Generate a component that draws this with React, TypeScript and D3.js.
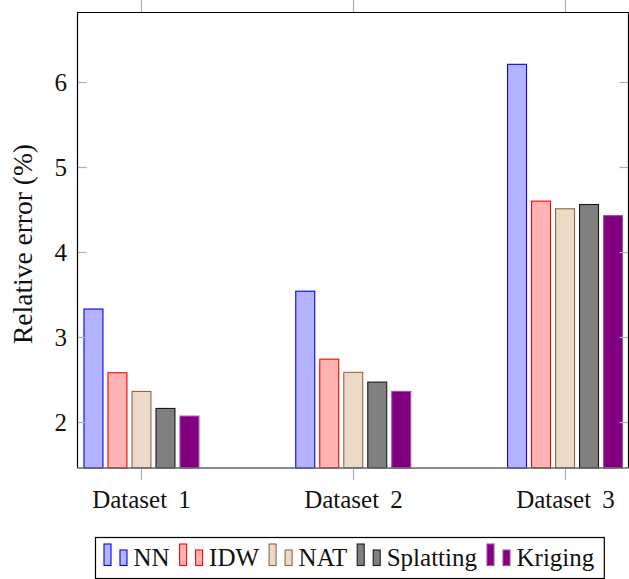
import React, { useEffect, useRef } from "react";
import * as d3 from "d3";

const categories = ["Dataset 1", "Dataset 2", "Dataset 3"];
const seriesNames = ["NN", "IDW", "NAT", "Splatting", "Kriging"];
const nnValues = [3.33, 3.54, 6.21];
const idwValues = [2.58, 2.74, 4.6];
const natValues = [2.36, 2.585, 4.51];
const splattingValues = [2.16, 2.47, 4.56];
const krigingValues = [2.07, 2.36, 4.43];
const yTicks = [2, 3, 4, 5, 6];
const yLabel = "Relative error (%)";

const fills = ["#b3b3ff", "#ffb3b3", "#ecd9c6", "#808080", "#800080"];
const strokes = ["#0000ff", "#ff0000", "#8c6a48", "#1a1a1a", "#a050a0"];

const W = 629;
const H = 579;
const FONT = "'Liberation Serif', 'Times New Roman', serif";

export default function App() {
  const ref = useRef<SVGSVGElement>(null);

  useEffect(() => {
    const svg = d3.select(ref.current);
    svg.selectAll("*").remove();

    const values = [nnValues, idwValues, natValues, splattingValues, krigingValues];
    const left = 77.5, right = 628.5, top = 12.5, bottom = 468;

    const x0 = d3.scalePoint<string>().domain(categories).range([left, right + 0.5]).padding(0.302);
    const x1 = d3.scaleBand<string>().domain(seriesNames).range([-60, 60]).paddingInner(0.21).paddingOuter(0.105);
    const y = d3.scaleLinear().domain([1.459, 6.82]).range([bottom, top]);

    const g = svg.append("g");

    // bars
    seriesNames.forEach((s, si) => {
      g.selectAll(null)
        .data(values[si])
        .enter()
        .append("rect")
        .attr("x", (d, i) => (x0(categories[i]) as number) + (x1(s) as number))
        .attr("y", (d) => y(d))
        .attr("width", x1.bandwidth())
        .attr("height", (d) => bottom - y(d))
        .attr("fill", fills[si])
        .attr("stroke", strokes[si])
        .attr("stroke-width", 1.1);
    });

    // y ticks (inside, both sides)
    yTicks.forEach((t) => {
      const yy = Math.round(y(t)) + 0.5;
      g.append("line").attr("x1", left).attr("x2", left + 9).attr("y1", yy).attr("y2", yy).attr("stroke", "#b0b0b0").attr("stroke-width", 1.2);
      g.append("line").attr("x1", right - 9).attr("x2", right).attr("y1", yy).attr("y2", yy).attr("stroke", "#b0b0b0").attr("stroke-width", 1.2);
      g.append("text")
        .attr("x", 67)
        .attr("y", yy)
        .attr("dy", "0.35em")
        .attr("text-anchor", "end")
        .attr("font-family", FONT)
        .attr("font-size", 25)
        .attr("fill", "#111")
        .text(String(t));
    });

    // x ticks top (outside) & bottom (outside)
    categories.forEach((c) => {
      const xx = Math.round(x0(c) as number) + 0.5;
      g.append("line").attr("x1", xx).attr("x2", xx).attr("y1", 0).attr("y2", top).attr("stroke", "#b0b0b0").attr("stroke-width", 1.2);
      g.append("line").attr("x1", xx).attr("x2", xx).attr("y1", bottom).attr("y2", bottom + 12).attr("stroke", "#b0b0b0").attr("stroke-width", 1.2);
      const parts = c.split(" ");
      const t = g.append("text")
        .attr("x", xx)
        .attr("y", 508)
        .attr("text-anchor", "middle")
        .attr("font-family", FONT)
        .attr("font-size", 25)
        .attr("fill", "#111");
      t.append("tspan").text(parts[0]);
      t.append("tspan").attr("dx", 5).text(" " + parts.slice(1).join(" "));
    });

    // frame
    g.append("path")
      .attr("d", `M${left},${bottom}V${top}H${right}V${bottom}`)
      .attr("fill", "none")
      .attr("stroke", "#000")
      .attr("stroke-width", 1.2);
    g.append("line").attr("x1", left).attr("x2", right).attr("y1", bottom).attr("y2", bottom).attr("stroke", "#666").attr("stroke-width", 1.5);

    // y label
    g.append("text")
      .attr("transform", `translate(32,244) rotate(-90)`)
      .attr("text-anchor", "middle")
      .attr("font-family", FONT)
      .attr("font-size", 27.5)
      .attr("fill", "#111")
      .text(yLabel);

    // legend
    const lg = svg.append("g");
    const box = lg.append("rect")
      .attr("y", 537.5)
      .attr("height", 41)
      .attr("fill", "#fff")
      .attr("stroke", "#000")
      .attr("stroke-width", 1.2);
    let cx = 104;
    seriesNames.forEach((s, si) => {
      lg.append("rect").attr("x", cx).attr("y", 544).attr("width", 7).attr("height", 21.5)
        .attr("fill", fills[si]).attr("stroke", strokes[si]).attr("stroke-width", 1.1);
      lg.append("rect").attr("x", cx + 16).attr("y", 550).attr("width", 7).attr("height", 15.5)
        .attr("fill", fills[si]).attr("stroke", strokes[si]).attr("stroke-width", 1.1);
      const t = lg.append("text")
        .attr("x", cx + 29.5)
        .attr("y", 566)
        .attr("font-family", FONT)
        .attr("font-size", 25)
        .attr("fill", "#111")
        .text(s);
      const w = (t.node() as SVGTextElement).getComputedTextLength();
      cx = cx + 29.5 + w + 10;
    });
    box.attr("x", 95.5).attr("width", cx - 95.5);
  }, []);

  return (
    <svg
      ref={ref}
      width={W}
      height={H}
      style={{ position: "absolute", left: 0, top: 0, background: "#fff" }}
    />
  );
}
